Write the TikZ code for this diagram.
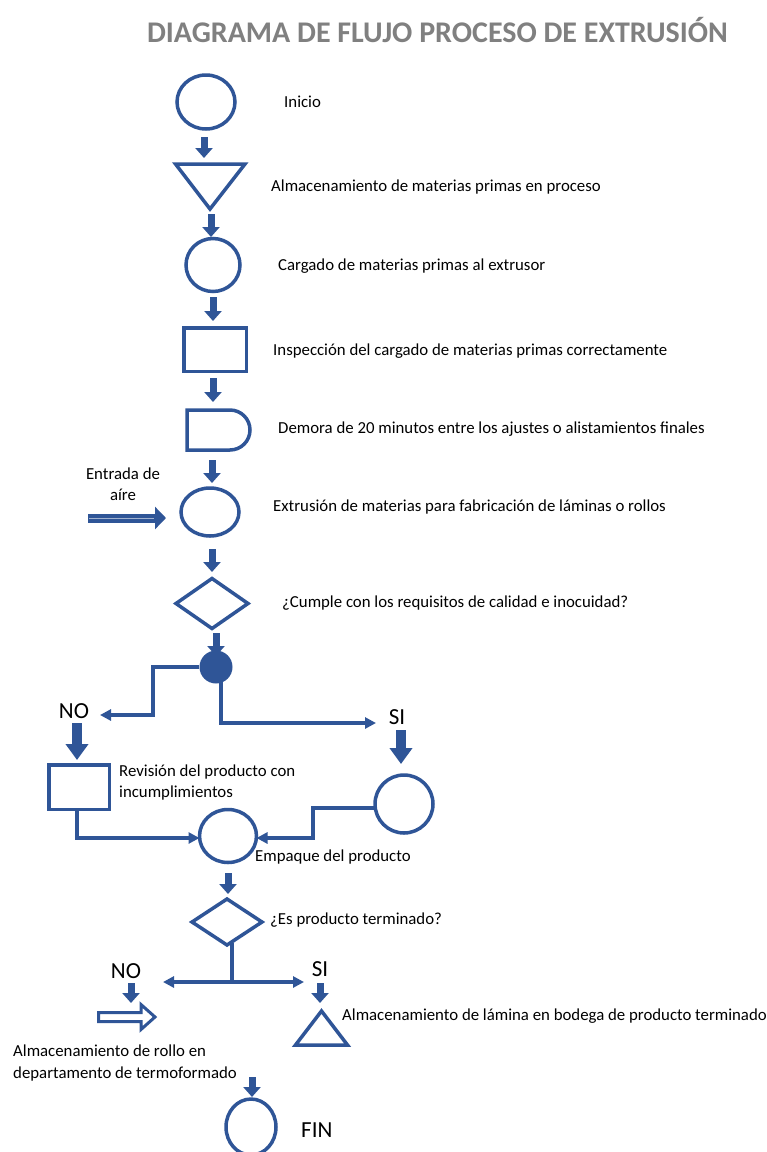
\documentclass[tikz,border=0pt]{standalone}
\usepackage{fontspec}
\setmainfont{Carlito}
\usetikzlibrary{arrows.meta,shapes.geometric,calc}
\definecolor{fblue}{RGB}{47,85,151}
\definecolor{tgray}{RGB}{128,128,128}
\begin{document}
\begin{tikzpicture}[x=1pt,y=-1pt,
  shp/.style={draw=fblue, line width=3.5pt, inner sep=0pt, outer sep=0pt},
  circ/.style={shp, ellipse},
  box/.style={shp, rectangle},
  dia/.style={shp, diamond},
  blk/.style={draw=fblue, line width=7pt, -{Triangle[width=17pt,length=10pt]}},
  bigblk/.style={draw=fblue, line width=9.5pt, -{Triangle[width=22pt,length=16pt]}},
  con/.style={draw=fblue, line width=3.5pt},
  conarr/.style={con, -{Triangle[width=11pt,length=11pt]}},
  lbl/.style={font=\fontsize{16.8}{20}\selectfont, anchor=west, inner sep=0pt},
  yn/.style={font=\fontsize{23}{26}\selectfont, inner sep=0pt}
]
\useasboundingbox (0,0) rectangle (767,1152);
\clip (0,0) rectangle (767,1152);

% title
\node[text=tgray, font=\bfseries\fontsize{30}{36}\selectfont, inner sep=0pt] (title) at (437.5,30) {DIAGRAMA DE FLUJO PROCESO DE EXTRUSIÓN};

% shapes
\node[circ, minimum width=58pt, minimum height=54pt] (inicio) at (206,102) {};
\draw[shp, line join=miter] (175.5,164) -- (245,164) -- (210,209) -- cycle;
\coordinate (alm1) at (210,180);
\node[circ, minimum width=54pt, minimum height=53pt] (cargado) at (213,265) {};
\node[box, minimum width=62.5pt, minimum height=43.5pt] (insp) at (215,349.5) {};
\draw[shp] (187,410) -- (230,410) arc (-90:90:20) -- (187,450) -- cycle;
\coordinate (demora) at (215,430);
\node[circ, minimum width=58pt, minimum height=48pt] (extr) at (210,512) {};
\node[dia, minimum width=72pt, minimum height=50pt] (cumple) at (212,603.5) {};
\node[circle, fill=fblue, minimum size=33pt, inner sep=0pt] (split) at (216,667) {};
\node[box, minimum width=60.5pt, minimum height=44.5pt] (revision) at (79,787) {};
\node[circ, minimum width=58pt, minimum height=58pt] (sicirc) at (404,804) {};
\node[circ, minimum width=57pt, minimum height=53pt] (empaque) at (228,836) {};
\node[dia, minimum width=70pt, minimum height=46pt] (terminado) at (227,922) {};
\draw[shp, line join=miter] (295.5,1045) -- (347.5,1045) -- (321.5,1011) -- cycle;
\coordinate (almlam) at (321,1030);
\node[circ, minimum width=50pt, minimum height=56pt] (fin) at (251,1127) {};

% hollow arrow (termoformado)
\draw[draw=fblue, fill=white, line width=3pt, line join=miter]
  (98.5,1012.5) -- (141,1012.5) -- (141,1004.5) -- (155,1017) -- (141,1029.5)
  -- (141,1021.5) -- (98.5,1021.5) -- cycle;
\coordinate (rollo) at (126,1017);

% air inlet arrow
\coordinate (aire0) at (88,518);
\coordinate (aire1) at (166,518);
\draw[draw=fblue, line width=9pt, -{Triangle[width=22pt,length=11pt]}] (aire0) -- (aire1);
\draw[draw=fblue!45!white, line width=0.8pt] (89,518) -- (154,518);

% short block arrows
\draw[blk] (204,137) -- (204,158);
\draw[blk] (211,214) -- (211,237);
\draw[blk] (213,297) -- (213,321);
\draw[blk] (213,378) -- (213,402);
\draw[blk] (212,460) -- (212,483);
\draw[blk] (212,549) -- (212,572);
\draw[blk] (216,633) -- (216,656);
\draw[bigblk] (77,723) -- (77,760);
\draw[bigblk] (401,730) -- (401,764);
\draw[blk] (228,873) -- (228,894);
\draw[blk] (131,983) -- (131,1003);
\draw[blk] (320,983) -- (320,1003);
\draw[blk] (252,1077) -- (252,1097);

% yes/no labels
\node[yn] (no1) at (74,711) {NO};
\node[yn] (si1) at (397,717) {SI};
\node[yn] (no2) at (126,971) {NO};
\node[yn] (si2) at (320,969) {SI};
\node[yn, anchor=west] (finlbl) at (301,1130) {FIN};

% connectors after first decision
\coordinate (noend) at (100,715);
\coordinate (siend) at (376,723);
\draw[con] (split.west) -- (153,667) -- (153,715) -- (110,715);
\draw[conarr] (153,715) -- (noend);
\draw[conarr] ([xshift=5pt]split.center) |- (siend);
\draw[conarr] ([xshift=-2pt]revision.south) |- ([yshift=-2pt]empaque.west);
\draw[conarr] ([yshift=-4pt]sicirc.west) -| (313,838) -- ([yshift=-2pt]empaque.east);

% second decision
\coordinate (junc) at (232,982);
\draw[con] ([xshift=5pt,yshift=2pt]terminado.south) -- (junc);
\draw[conarr] (junc) -- (163,982);
\draw[conarr] (junc) -- (304,982);

% texts
\node[lbl] at (284,102) {Inicio};
\node[lbl] at (271,187) {Almacenamiento de materias primas en proceso};
\node[lbl] at (278,266) {Cargado de materias primas al extrusor};
\node[lbl] at (273,351) {Inspección del cargado de materias primas correctamente};
\node[lbl] at (278,429) {Demora de 20 minutos entre los ajustes o alistamientos finales};
\node[lbl] at (273,507) {Extrusión de materias para fabricación de láminas o rollos};
\node[lbl] at (282,603) {¿Cumple con los requisitos de calidad e inocuidad?};
\node[lbl, anchor=center, align=center, font=\fontsize{16.8}{21}\selectfont] at (123,484) {Entrada de\\aíre};
\node[lbl, align=left, font=\fontsize{16.8}{21}\selectfont] at (119,783) {Revisión del producto con\\incumplimientos};
\node[lbl] at (255,857) {Empaque del producto};
\node[lbl] at (270,920) {¿Es producto terminado?};
\node[lbl] at (342,1016) {Almacenamiento de lámina en bodega de producto terminado};
\node[lbl, align=left, font=\fontsize{16.8}{22}\selectfont] at (13,1063) {Almacenamiento de rollo en\\departamento de termoformado};
\end{tikzpicture}
\end{document}
